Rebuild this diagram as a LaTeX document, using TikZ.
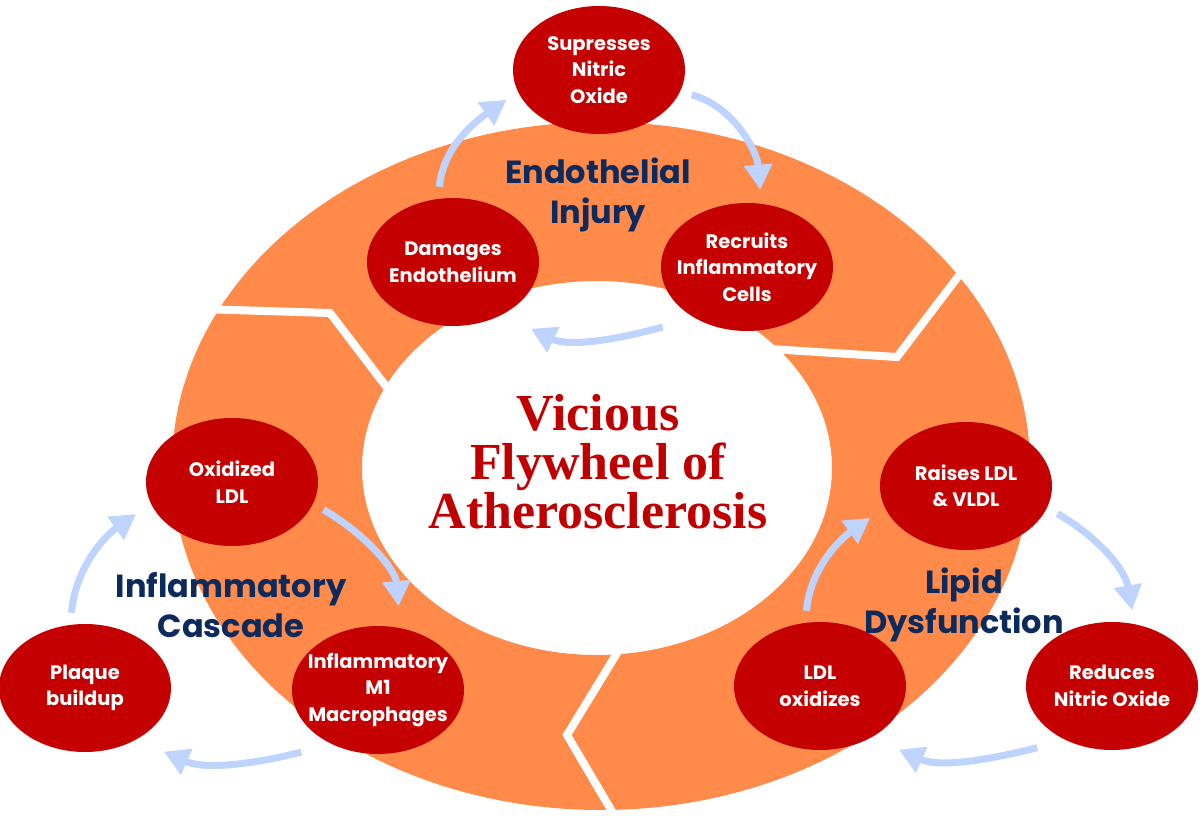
\documentclass[tikz,border=0pt]{standalone}
\usepackage{fontspec}
\usepackage{tikz}
\usetikzlibrary{arrows.meta,shapes.geometric,positioning,calc}
\newfontfamily\boxfont{Poppins}
\newfontfamily\headfont{Liberation Serif}
\definecolor{ringorange}{HTML}{FF8A4A}
\definecolor{nodered}{HTML}{C40000}
\definecolor{titlered}{HTML}{C00000}
\definecolor{labelnavy}{HTML}{0D2A5C}
\definecolor{arrowblue}{HTML}{BED3FE}

\begin{document}
\begin{tikzpicture}[x=1pt, y=1pt,
    every node/.style={align=center},
    stage/.style={ellipse, fill=nodered, text=white, minimum width=172pt, minimum height=128pt,
        inner xsep=-12pt, inner ysep=0pt, font=\boxfont\bfseries\fontsize{19.5}{26.5}\selectfont},
    phase/.style={text=labelnavy, font=\boxfont\bfseries\fontsize{32}{40}\selectfont},
    flow/.style={draw=arrowblue, line width=7pt, -{Triangle[width=27pt,length=25pt]},
        shorten <=12pt, shorten >=14pt},
    gap/.style={draw=white, line width=8pt, miter limit=10},
]
\useasboundingbox (0,0) rectangle (1200,815);

% Flywheel ring
\fill[ringorange, even odd rule] (601,349) ellipse [x radius=429pt, y radius=344pt]
    (597,347) ellipse [x radius=235pt, y radius=187pt];

% White cuts between the three stages
\draw[gap] (200,506) -- (330,502) -- (385,430) -- (395,417);
\draw[gap] (770,466) -- (897,458) -- (960,541);
\draw[gap] (625,175) -- (567,80) -- (620,-10);

% Title
\node[text=titlered, font=\headfont\bfseries\fontsize{52}{49}\selectfont] (title) at (598,353)
    {Vicious\\Flywheel of\\Atherosclerosis};

% Phase labels
\node[phase] (endo) at (598,620) {Endothelial\\Injury};
\node[phase] (cascade) at (231,210) {Inflammatory\\Cascade};
\node[phase] (lipid) at (964,210) {Lipid\\Dysfunction};

% Endothelial injury loop
\node[stage] (supress) at (599,745) {Supresses\\Nitric\\Oxide};
\node[stage] (damage) at (453,553) {Damages\\Endothelium};
\node[stage] (recruit) at (747,548) {Recruits\\Inflammatory\\Cells};

% Inflammatory cascade loop
\node[stage] (oxid) at (232,333) {Oxidized\\LDL};
\node[stage] (macro) at (378,125) {Inflammatory\\M1\\Macrophages};
\node[stage] (plaque) at (85,127) {Plaque\\buildup};

% Lipid dysfunction loop
\node[stage] (raises) at (966,329) {Raises LDL\\\& VLDL};
\node[stage] (ldlox) at (820,129) {LDL\\oxidizes};
\node[stage] (reduces) at (1112,129) {Reduces\\Nitric Oxide};

% Arrows
\draw[flow] (damage.103) to[out=85, in=215] (supress.195);
\draw[flow] (supress.345) to[out=-15, in=95] (recruit.77);
\draw[flow, shorten <=33pt, shorten >=32pt] (recruit.224) to[out=196, in=-26] (damage.-47);

\draw[flow, shorten >=22pt] (oxid.-15) to[out=-30, in=95] (macro.70);
\draw[flow, shorten <=32pt, shorten >=30pt] (macro.230) to[out=194, in=-24] (plaque.-45);
\draw[flow, shorten >=18pt] (plaque.103) to[out=85, in=215] (oxid.195);

\draw[flow] (raises.-15) to[out=-30, in=100] (reduces.70);
\draw[flow, shorten <=30pt, shorten >=30pt] (reduces.230) to[out=194, in=-24] (ldlox.-45);
\draw[flow, shorten >=18pt] (ldlox.103) to[out=85, in=215] (raises.195);

\end{tikzpicture}
\end{document}
